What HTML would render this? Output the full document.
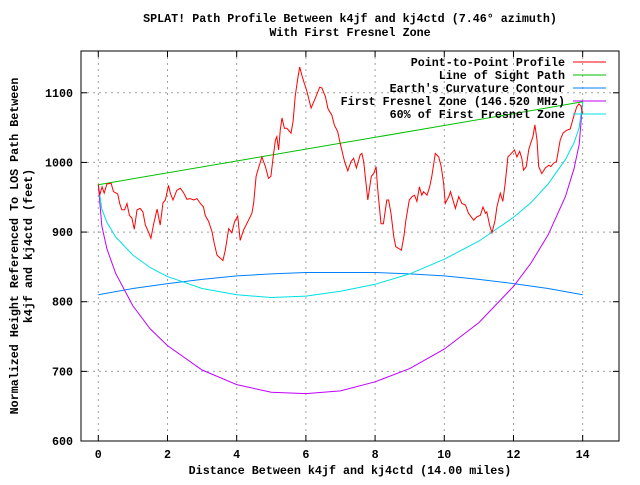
<!DOCTYPE html>
<html><head><meta charset="utf-8"><style>
body{margin:0;background:#fff}
svg text{font-family:"Liberation Mono",monospace;font-size:11.7px;font-weight:bold;fill:#000}
</style></head><body>
<svg id="chart" width="640" height="480" xmlns="http://www.w3.org/2000/svg">
<rect width="640" height="480" fill="#fff"/>
<g id="grid"></g>
<g id="series"></g>
<rect x="81" y="51" width="538" height="390" fill="none" stroke="#000" stroke-width="1"/>
<g id="axes"></g>
<text x="350" y="22" text-anchor="middle">SPLAT! Path Profile Between k4jf and kj4ctd (7.46° azimuth)</text>
<text x="350" y="36" text-anchor="middle">With First Fresnel Zone</text>
<text x="350" y="474" text-anchor="middle">Distance Between k4jf and kj4ctd (14.00 miles)</text>
<text transform="translate(18,246) rotate(-90)" text-anchor="middle">Normalized Height Referenced To LOS Path Between</text>
<text transform="translate(32,246) rotate(-90)" text-anchor="middle">k4jf and kj4ctd (feet)</text>
<g id="legend"></g>
</svg>
<script>
const xTicks=[0,2,4,6,8,10,12,14];
const yTicks=[600,700,800,900,1000,1100];
const profileX=[0,0.04,0.11,0.17,0.25,0.37,0.44,0.56,0.62,0.68,0.76,0.83,0.90,0.97,1.04,1.12,1.21,1.29,1.36,1.45,1.52,1.60,1.70,1.79,1.87,1.94,2.03,2.08,2.16,2.27,2.37,2.47,2.56,2.66,2.76,2.85,2.95,3.04,3.09,3.19,3.29,3.35,3.43,3.60,3.67,3.77,3.86,3.94,4.03,4.10,4.20,4.34,4.44,4.49,4.56,4.63,4.73,4.83,4.92,4.99,5.05,5.12,5.16,5.21,5.26,5.31,5.38,5.45,5.57,5.63,5.69,5.76,5.82,5.89,5.95,6.03,6.15,6.27,6.40,6.46,6.56,6.64,6.75,6.82,6.92,6.99,7.12,7.21,7.30,7.38,7.46,7.57,7.62,7.67,7.75,7.79,7.89,7.96,8.03,8.07,8.17,8.24,8.34,8.39,8.46,8.54,8.60,8.76,8.83,8.89,8.99,9.07,9.14,9.21,9.28,9.35,9.40,9.50,9.58,9.64,9.74,9.84,9.91,9.98,10.03,10.13,10.18,10.32,10.42,10.51,10.61,10.70,10.85,10.94,11.04,11.12,11.19,11.23,11.31,11.38,11.47,11.52,11.62,11.69,11.76,11.84,11.90,12.03,12.10,12.18,12.24,12.29,12.37,12.44,12.50,12.56,12.62,12.68,12.73,12.82,12.92,13.02,13.08,13.16,13.24,13.35,13.43,13.53,13.64,13.74,13.83,13.89,13.95,14.00];
const profileY=[968,953,965,956,969,970,958,955,941,932,932,941,924,920,904,932,934,929,910,900,891,912,933,910,942,946,967,956,946,960,963,956,947,948,946,948,941,936,924,915,900,884,867,859,874,905,899,915,923,888,903,917,927,941,980,992,1008,994,977,980,1006,1032,1037,1018,1047,1064,1049,1049,1042,1059,1095,1119,1137,1124,1114,1102,1078,1092,1108,1107,1095,1077,1068,1054,1044,1028,1001,988,1001,1006,992,1011,1013,1001,965,946,980,984,994,965,912,912,946,946,927,893,879,874,893,917,946,951,953,944,965,953,958,953,965,980,1013,1008,994,970,941,951,958,934,951,941,939,927,917,922,924,936,927,929,910,899,917,936,956,944,970,1008,1011,1018,1008,1016,1006,989,994,1018,1028,1037,1054,1032,994,984,992,996,994,999,1001,1032,1042,1046,1048,1066,1080,1084,1081,1070];
const losX=[0,14];
const losY=[968,1087];
const earthX=[0,1,2,3,4,5,6,7,8,9,10,11,12,13,14];
const earthY=[810,819,826,832,837,840,842,842,842,840,837,832,826,819,810];
const fresnelX=[0,0.1,0.25,0.5,1,1.5,2,3,4,5,6,7,8,9,10,11,12,12.5,13,13.5,13.75,13.9,14];
const fresnelY=[968,909,876,841,794,761,737,702,681,670,668,672,685,704,732,770,822,855,896,951,991,1026,1087];
const fresnel60Y=[968,933,914,893,867,849,836,819,810,806,808,815,825,840,861,887,921,942,969,1004,1028,1050,1087];

const NS="http://www.w3.org/2000/svg";
const L=81,R=619,T=51,B=441,XMIN=-0.5,XMAX=15.05,YMIN=600,YMAX=1160;
const sx=v=>L+(v-XMIN)/(XMAX-XMIN)*(R-L);
const sy=v=>B-(v-YMIN)/(YMAX-YMIN)*(B-T);
function mk(tag,attrs,parent){const e=document.createElementNS(NS,tag);for(const k in attrs)e.setAttribute(k,attrs[k]);parent.appendChild(e);return e;}
const grid=document.getElementById('grid'),axes=document.getElementById('axes');
xTicks.forEach(t=>{
  const x=sx(t);
  const g=mk('line',{x1:x,x2:x,y1:T,y2:B,stroke:'#a0a0a0','stroke-dasharray':'2,4'},grid);
  
  
  const a=mk('line',{x1:x,x2:x,y1:B,y2:B-6,stroke:'#000'},axes);
  
  
  const b=mk('line',{x1:x,x2:x,y1:T,y2:T+6,stroke:'#000'},axes);
  
  
  const l=mk('text',{x:x,y:458,'text-anchor':'middle'},axes);l.textContent=t;
  
  
});
yTicks.forEach(t=>{
  const y=sy(t);
  const g=mk('line',{x1:L,x2:R,y1:y,y2:y,stroke:'#a0a0a0','stroke-dasharray':'2,4'},grid);
  
  
  const a=mk('line',{x1:L,x2:L+6,y1:y,y2:y,stroke:'#000'},axes);
  
  
  const b=mk('line',{x1:R,x2:R-6,y1:y,y2:y,stroke:'#000'},axes);
  
  
  const l=mk('text',{x:73,y:y+4,'text-anchor':'end'},axes);l.textContent=t;
  
  
});
const series=document.getElementById('series');
function line(xs,ys,color,name){
  const p=mk('polyline',{points:xs.map((x,i)=>sx(x).toFixed(1)+','+sy(ys[i]).toFixed(1)).join(' '),fill:'none',stroke:color,'stroke-width':1},series);
  
  
}
line(earthX,earthY,'#0080ff','earth-curvature-line');
line(fresnelX,fresnelY,'#c000ff','first-fresnel-zone-line');
line(fresnelX,fresnel60Y,'#00e0e0','fresnel-60-line');
line(losX,losY,'#00c000','line-of-sight-line');
line(profileX,profileY,'#ff0000','profile-line');
const legend=document.getElementById('legend');
const entries=[['Point-to-Point Profile','#ff0000'],['Line of Sight Path','#00c000'],["Earth's Curvature Contour",'#0080ff'],['First Fresnel Zone (146.520 MHz)','#c000ff'],['60% of First Fresnel Zone','#00e0e0']];
entries.forEach((e,i)=>{
  const y=62+i*13;
  const t=mk('text',{x:565,y:y+4,'text-anchor':'end'},legend);t.textContent=e[0];
  
  
  const s=mk('line',{x1:573,x2:606,y1:y,y2:y,stroke:e[1]},legend);
  
  
});
</script>
</body></html>
